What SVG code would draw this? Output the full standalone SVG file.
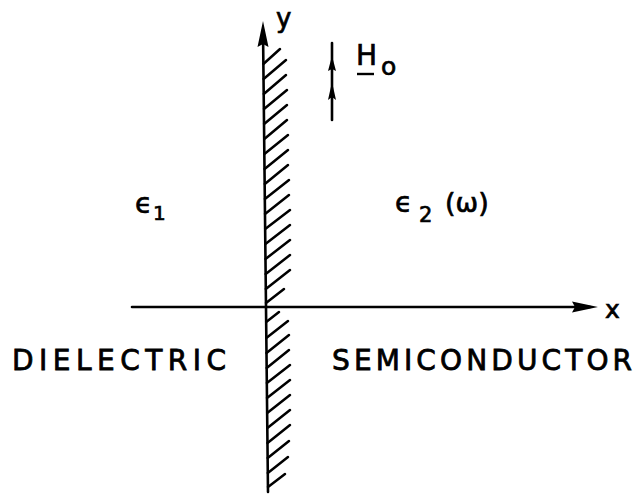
<svg xmlns="http://www.w3.org/2000/svg" width="637" height="494" viewBox="0 0 637 494">
<style>
.ln{stroke:#000;stroke-width:2.6;fill:none;stroke-linecap:round}
.hat{stroke:#000;stroke-width:2.5;stroke-linecap:round}
.ah{fill:#000;stroke:none}
.t{font-family:"DejaVu Sans","Liberation Sans",sans-serif;fill:#000;stroke:#000;stroke-width:0.7}
.cap{font-family:"DejaVu Sans","Liberation Sans",sans-serif;font-size:28px;fill:#000;stroke:#000;stroke-width:0.8}
</style>
<rect width="637" height="494" fill="#fff"/>
<g id="connectors">
  <line class="ln" x1="132" y1="307" x2="590" y2="307"/>
  <polygon class="ah" points="598,307 572,301.5 575,307 572,312.5"/>
  <line class="ln" x1="263" y1="30" x2="268" y2="492"/>
  <polygon class="ah" points="263,21 257.5,47 263,44 268.5,47"/>
  <line class="ln" x1="332" y1="43" x2="332" y2="120"/>
  <polygon class="ah" points="332,56 328,71 332,69 336,71"/>
  <polygon class="ah" points="332,82 328,100 332,97 336,100"/>
</g>
<g id="hatching">
  <line class="hat" x1="263.4" y1="64" x2="280" y2="49"/>
  <line class="hat" x1="263.6" y1="79" x2="286" y2="60"/>
  <line class="hat" x1="263.8" y1="94" x2="286" y2="75"/>
  <line class="hat" x1="264" y1="109" x2="287" y2="90"/>
  <line class="hat" x1="264.1" y1="124" x2="287" y2="105"/>
  <line class="hat" x1="264.3" y1="139" x2="287" y2="120"/>
  <line class="hat" x1="264.4" y1="154" x2="288" y2="135"/>
  <line class="hat" x1="264.6" y1="169" x2="288" y2="150"/>
  <line class="hat" x1="264.8" y1="184" x2="288" y2="165"/>
  <line class="hat" x1="264.9" y1="199" x2="289" y2="180"/>
  <line class="hat" x1="265" y1="214" x2="289" y2="195"/>
  <line class="hat" x1="265.2" y1="229" x2="290" y2="210"/>
  <line class="hat" x1="265.4" y1="244" x2="290" y2="225"/>
  <line class="hat" x1="265.5" y1="259" x2="290" y2="240"/>
  <line class="hat" x1="265.7" y1="274" x2="290" y2="255"/>
  <line class="hat" x1="265.8" y1="289" x2="290" y2="270"/>
  <line class="hat" x1="266" y1="303" x2="284" y2="289"/>
  <line class="hat" x1="266.2" y1="322" x2="279" y2="312"/>
  <line class="hat" x1="266.3" y1="338" x2="288" y2="321"/>
  <line class="hat" x1="266.5" y1="353" x2="289" y2="335"/>
  <line class="hat" x1="266.7" y1="368" x2="289" y2="350"/>
  <line class="hat" x1="266.9" y1="383" x2="290" y2="365"/>
  <line class="hat" x1="267" y1="398" x2="290" y2="380"/>
  <line class="hat" x1="267.2" y1="413" x2="290" y2="395"/>
  <line class="hat" x1="267.4" y1="428" x2="290" y2="410"/>
  <line class="hat" x1="267.5" y1="443" x2="290" y2="425"/>
  <line class="hat" x1="267.7" y1="458" x2="289" y2="441"/>
  <line class="hat" x1="267.8" y1="473" x2="288" y2="457"/>
  <line class="hat" x1="268" y1="487" x2="285" y2="474"/>
</g>
<g id="labels">
  <text class="t" x="276" y="27" font-size="26">y</text>
  <text class="t" x="605" y="318" font-size="25">x</text>
  <text class="t" x="356" y="65" font-size="28">H</text>
  <line x1="357" y1="74" x2="374" y2="74" stroke="#000" stroke-width="2.4"/>
  <text class="t" x="381" y="75" font-size="25">o</text>
  <text class="t" x="135" y="213" font-size="28">ϵ</text>
  <text class="t" x="153" y="220" font-size="20">1</text>
  <text class="t" x="395" y="212" font-size="28">ϵ</text>
  <text class="t" x="419" y="222" font-size="21">2</text>
  <text class="t" x="445" y="212" font-size="27">(ω)</text>
  <text class="cap" x="12" y="370" textLength="214" lengthAdjust="spacing">DIELECTRIC</text>
  <text class="cap" x="332" y="370" textLength="300" lengthAdjust="spacing">SEMICONDUCTOR</text>
</g>
</svg>
